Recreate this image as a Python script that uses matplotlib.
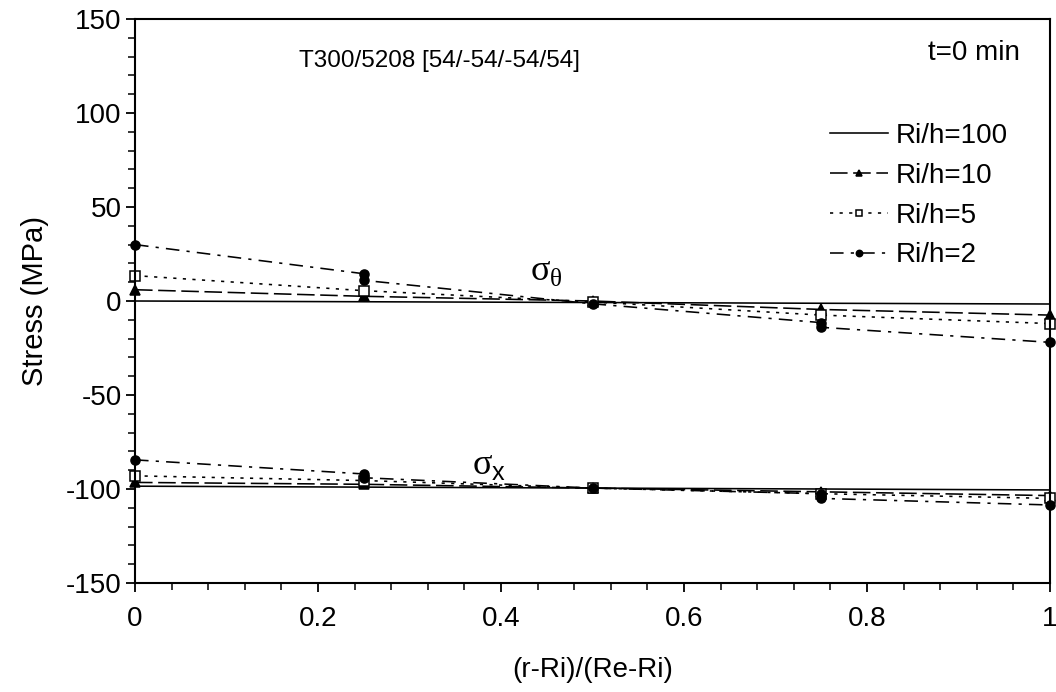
import matplotlib
matplotlib.use("Agg")
import matplotlib.pyplot as plt
from matplotlib.ticker import MultipleLocator

plt.rcParams['font.family'] = ['Liberation Sans', 'DejaVu Sans']
plt.rcParams['axes.unicode_minus'] = False
plt.rcParams['mathtext.fontset'] = 'custom'
plt.rcParams['mathtext.rm'] = 'Liberation Serif'
plt.rcParams['mathtext.sf'] = 'Liberation Sans'

# positions through the laminate thickness
xpos = [0, 0.25, 0.5, 0.75, 1]
# Ri/h=2 has a jump at the ply interfaces 0.25 and 0.75
xpos2 = [0, 0.25, 0.25, 0.5, 0.75, 0.75, 1]

labels = ["Ri/h=100", "Ri/h=10", "Ri/h=5", "Ri/h=2"]

# hoop stress (MPa)
theta_100 = [0, -0.4, -0.8, -1.2, -1.6]
theta_10 = [6, 2.5, 0, -4.5, -7.5]
theta_5 = [13.5, 5.5, -0.5, -7.5, -12]
theta_2 = [30, 14.5, 11, -1.5, -11.5, -14, -22]

# axial stress (MPa)
sx_100 = [-98.5, -99, -99.5, -100, -100.5]
sx_10 = [-96.5, -97.5, -99.5, -101.5, -103.5]
sx_5 = [-93, -95.5, -99.5, -102.5, -105]
sx_2 = [-84.5, -92, -94, -99.5, -102.5, -105, -108.5]

fig = plt.figure(figsize=(10.56, 6.92), dpi=100)
ax = fig.add_axes([135/1056, 1 - 583/692, 915/1056, 564/692])

lw = 1.15
dash = (0, (11, 3.5))
dot = (0, (2, 4))
dashdot = (0, (8.5, 4.5, 2, 4.5))

styles = [
    dict(ls='-', marker=None),
    dict(ls=dash, marker='^', mfc='black', ms=7),
    dict(ls=dot, marker='s', mfc='white', ms=6.5),
    dict(ls=dashdot, marker='o', mfc='black', ms=6.5),
]
xs = [xpos, xpos, xpos, xpos2]
thetas = [theta_100, theta_10, theta_5, theta_2]
sxs = [sx_100, sx_10, sx_5, sx_2]

for i in range(4):
    st = styles[i]
    ax.plot(xs[i], thetas[i], color='black', lw=lw, mec='black', mew=1.1,
            label=labels[i], clip_on=False, **st)
    ax.plot(xs[i], sxs[i], color='black', lw=lw, mec='black', mew=1.1,
            clip_on=False, **st)

ax.set_xlim(0, 1)
ax.set_ylim(-150, 150)
ax.xaxis.set_major_locator(MultipleLocator(0.2))
ax.xaxis.set_minor_locator(MultipleLocator(0.04))
ax.yaxis.set_major_locator(MultipleLocator(50))
ax.yaxis.set_minor_locator(MultipleLocator(10))
ax.set_xticks([0, 0.2, 0.4, 0.6, 0.8, 1])
ax.set_xticklabels(["0", "0.2", "0.4", "0.6", "0.8", "1"])
ax.tick_params(which='major', direction='out', length=6.5, width=1.3,
               labelsize=20, pad=10)
ax.tick_params(which='minor', direction='out', length=5, width=1.1)
ax.tick_params(axis='y', which='major', pad=3)
for s in ax.spines.values():
    s.set_linewidth(1.5)

ax.set_xlabel("(r-Ri)/(Re-Ri)", fontsize=20, labelpad=18)
ax.set_ylabel("Stress (MPa)", fontsize=21, labelpad=12)

ax.text(0.333, 0.925, "T300/5208 [54/-54/-54/54]", transform=ax.transAxes,
        fontsize=17.5, ha='center', va='center')
ax.text(0.917, 0.94, "t=0 min", transform=ax.transAxes,
        fontsize=20, ha='center', va='center')
ax.text(0.45, 16, r"$\mathrm{σ}_{\mathrm{θ}}$", fontsize=26, ha='center', va='center')
ax.text(0.387, -87, r"$\mathrm{σ}_{\mathsf{x}}$", fontsize=26, ha='center', va='center')

leg = ax.legend(loc='upper left', bbox_to_anchor=((830 - 135) / 915, 0.816),
                frameon=False, fontsize=20, handlelength=2.1, handletextpad=0.28,
                labelspacing=0.5, markerscale=0.7, numpoints=1,
                borderpad=0, borderaxespad=0)

fig.savefig("out.png", dpi=100)
